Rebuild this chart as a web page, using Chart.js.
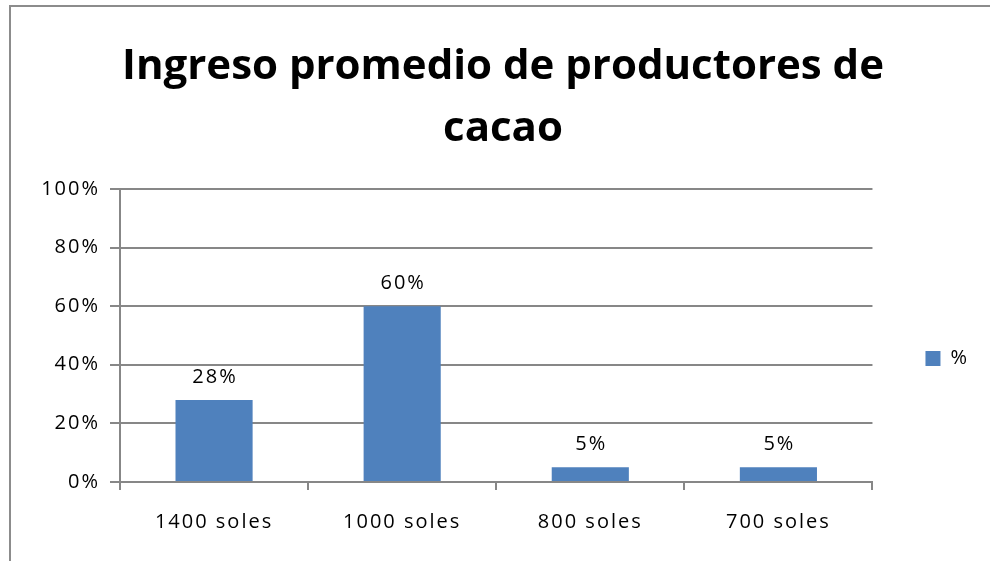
<!DOCTYPE html>
<html>
<head>
<meta charset="utf-8">
<script src="https://cdn.jsdelivr.net/npm/chart.js@4.4.1/dist/chart.umd.min.js"></script>
<style>
  body { margin: 0; background: #fff; }
  canvas { display: block; }
</style>
</head>
<body>
<canvas id="barChart" width="990" height="561"></canvas>
<script>
var titleLines = ['Ingreso promedio de productores de', 'cacao'];
var categories = ['1400 soles', '1000 soles', '800 soles', '700 soles'];
var seriesName = '%';
var percents = [28, 60, 5, 5];
var yTicks = [0, 20, 40, 60, 80, 100];

var axisGray = '#878787';
var barBlue = '#4F81BD';

// frame round the chart, like the office chart border
var framePlugin = {
  id: 'frame',
  beforeDraw: function (chart) {
    var ctx = chart.ctx;
    ctx.letterSpacing = '0px';
    ctx.save();
    ctx.fillStyle = '#fff';
    ctx.fillRect(0, 0, chart.width, chart.height);
    ctx.fillStyle = '#8c8c8c';
    ctx.fillRect(9, 5, 2, chart.height);
    ctx.fillRect(9, 5, chart.width, 2);
    ctx.restore();
  },
  afterDraw: function (chart) {
    chart.ctx.letterSpacing = '0px';
  }
};

// value labels above every bar
var valueLabels = {
  id: 'valueLabels',
  afterDatasetsDraw: function (chart) {
    var ctx = chart.ctx;
    // spaced text like the original rendering (tick labels are drawn after this)
    ctx.letterSpacing = '2px';
    var meta = chart.getDatasetMeta(0);
    ctx.save();
    ctx.font = '20px "Open Sans"';
    ctx.fillStyle = '#000';
    ctx.textAlign = 'center';
    ctx.textBaseline = 'alphabetic';
    meta.data.forEach(function (bar, i) {
      ctx.fillText(percents[i] + '%', bar.x + 1, bar.y - 17);
    });
    ctx.restore();
  }
};

var ctx = document.getElementById('barChart').getContext('2d');
var chart = new Chart(ctx, {
  type: 'bar',
  data: {
    labels: categories,
    datasets: [{
      label: seriesName,
      data: percents,
      backgroundColor: barBlue,
      borderWidth: 0,
      categoryPercentage: 1,
      barPercentage: 0.41
    }]
  },
  options: {
    responsive: false,
    animation: false,
    layout: { padding: { left: 29, right: 13, top: 0, bottom: 0 } },
    plugins: {
      title: {
        display: true,
        text: titleLines,
        color: '#000',
        font: { family: '"Open Sans"', size: 42, weight: 'bold', lineHeight: 1.476 },
        padding: { top: 36, bottom: 29 }
      },
      legend: {
        position: 'right',
        fullSize: false,
        // empty title only pushes the single entry down a little
        title: { display: true, text: ' ', padding: 11, font: { size: 20 } },
        labels: {
          boxWidth: 15,
          boxHeight: 15,
          padding: 53,
          color: '#000',
          font: { family: '"Open Sans"', size: 20 }
        }
      },
      tooltip: { enabled: false }
    },
    scales: {
      x: {
        afterFit: function (scale) { scale.height = 79; },
        grid: { drawOnChartArea: false, tickLength: 8, color: axisGray, lineWidth: 2, offset: true },
        border: { color: axisGray, width: 2 },
        ticks: { color: '#000', padding: 20, z: 1, font: { family: '"Open Sans"', size: 20 } }
      },
      y: {
        min: 0,
        max: 100,
        afterFit: function (scale) { scale.width = 91; },
        afterBuildTicks: function (scale) {
          scale.ticks = yTicks.map(function (v) { return { value: v }; });
        },
        grid: { tickLength: 10, color: axisGray, lineWidth: 2 },
        border: { color: axisGray, width: 2 },
        ticks: {
          color: '#000',
          padding: 10,
          z: 1,
          font: { family: '"Open Sans"', size: 20 },
          callback: function (v) { return v + '%'; }
        }
      }
    }
  },
  plugins: [framePlugin, valueLabels]
});
</script>
</body>
</html>
